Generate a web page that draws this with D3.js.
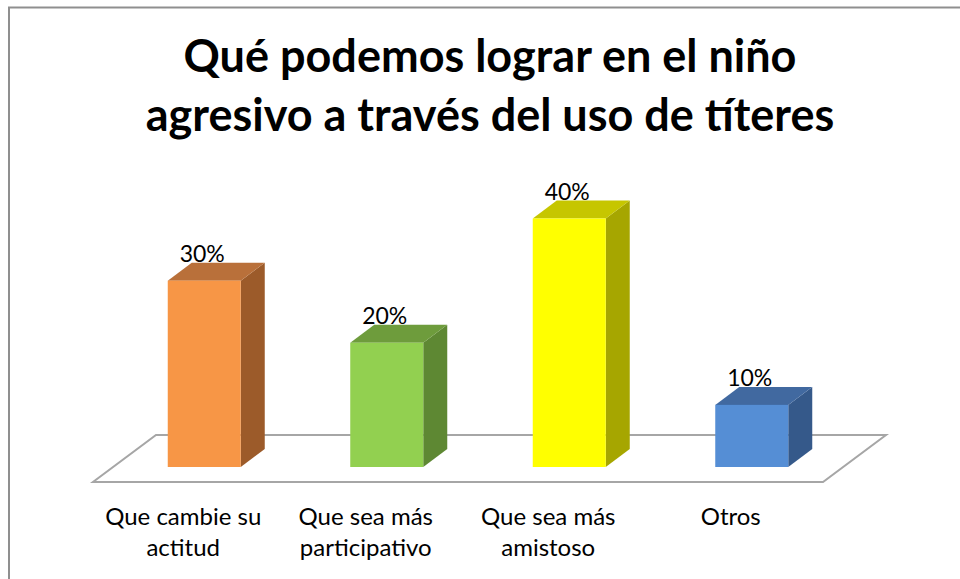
<!DOCTYPE html>
<html>
<head>
<meta charset="utf-8">
<script src="https://cdn.jsdelivr.net/npm/d3@7"></script>
<style>
  html, body { margin: 0; padding: 0; background: #fff; }
  svg { display: block; }
</style>
</head>
<body>
<svg id="chart" width="960" height="579"></svg>
<script>
const titleLines = ["Qué podemos lograr en el niño", "agresivo a través del uso de títeres"];
const categories = ["Que cambie su actitud", "Que sea más participativo", "Que sea más amistoso", "Otros"];
const categoryLines = [["Que cambie su", "actitud"], ["Que sea más", "participativo"], ["Que sea más", "amistoso"], ["Otros"]];
const values = [0.30, 0.20, 0.40, 0.10];
const valueLabels = ["30%", "20%", "40%", "10%"];
const frontColors = ["#F79646", "#92D050", "#FFFF00", "#558ED5"];
const topColors = ["#B9703A", "#6E9C3C", "#C6C600", "#4169A0"];
const sideColors = ["#9C5B2A", "#5E8833", "#A6A600", "#35598A"];

const svg = d3.select("#chart");
const FONT = "Lato, 'Open Sans', sans-serif";

// outer frame
svg.append("rect").attr("x", 9).attr("y", 7.5).attr("width", 990).attr("height", 600)
  .attr("fill", "#fff").attr("stroke", "#8f8f8f").attr("stroke-width", 2);

// title
const title = svg.append("text").attr("text-anchor", "middle")
  .attr("font-family", FONT).attr("font-weight", "bold").attr("font-size", 45).attr("fill", "#000");
titleLines.forEach((t, i) => {
  title.append("tspan").attr("x", 490).attr("y", 72 + i * 59).text(t);
});

// scales
const floorFrontY = 482;
const floorDepth = { dx: 63, dy: -47 };
const barOffset = { dx: 20, dy: -15 };   // bar front plane relative to floor front
const barDepth = { dx: 24, dy: -18 };

const x = d3.scaleBand().domain(categories).range([93, 823]).paddingInner(0.6).paddingOuter(0.3);
const y = d3.scaleLinear().domain([0, 0.4]).range([floorFrontY + barOffset.dy, 218.5]);

// floor
const fl = x.range()[0], fr = x.range()[1];
const floorPts = [[fl, floorFrontY], [fr, floorFrontY], [fr + floorDepth.dx, floorFrontY + floorDepth.dy], [fl + floorDepth.dx, floorFrontY + floorDepth.dy]];
svg.append("polygon").attr("points", floorPts.map(p => p.join(",")).join(" "))
  .attr("fill", "#fff").attr("stroke", "#a6a6a6").attr("stroke-width", 2).attr("stroke-linejoin", "miter");

// bars
const data = categories.map((c, i) => ({ c, v: values[i], i }));
const bars = svg.append("g").selectAll("g").data(data).join("g");

bars.each(function(d) {
  const g = d3.select(this);
  const x0 = x(d.c) + barOffset.dx, x1 = x0 + x.bandwidth();
  const yb = y(0), yt = y(d.v);
  const { dx, dy } = barDepth;
  // side
  g.append("polygon").attr("points", [[x1, yb], [x1, yt], [x1 + dx, yt + dy], [x1 + dx, yb + dy]].map(p => p.join(",")).join(" "))
    .attr("fill", sideColors[d.i]);
  // top
  g.append("polygon").attr("points", [[x0, yt], [x1, yt], [x1 + dx, yt + dy], [x0 + dx, yt + dy]].map(p => p.join(",")).join(" "))
    .attr("fill", topColors[d.i]);
  // front
  g.append("rect").attr("x", x0).attr("y", yt).attr("width", x.bandwidth()).attr("height", yb - yt)
    .attr("fill", frontColors[d.i]);
  // value label
  g.append("text").attr("x", (x0 + x1) / 2 - 2).attr("y", yt - 19)
    .attr("text-anchor", "middle").attr("font-family", FONT).attr("font-size", 23).attr("fill", "#000")
    .text(valueLabels[d.i]);
});

// category labels
const catG = svg.append("g");
data.forEach(d => {
  const t = catG.append("text").attr("text-anchor", "middle")
    .attr("font-family", FONT).attr("font-size", 24).attr("fill", "#000");
  categoryLines[d.i].forEach((line, j) => {
    t.append("tspan").attr("x", x(d.c) + x.bandwidth() / 2 - 1).attr("y", 525 + j * 31).text(line);
  });
});
</script>
</body>
</html>
